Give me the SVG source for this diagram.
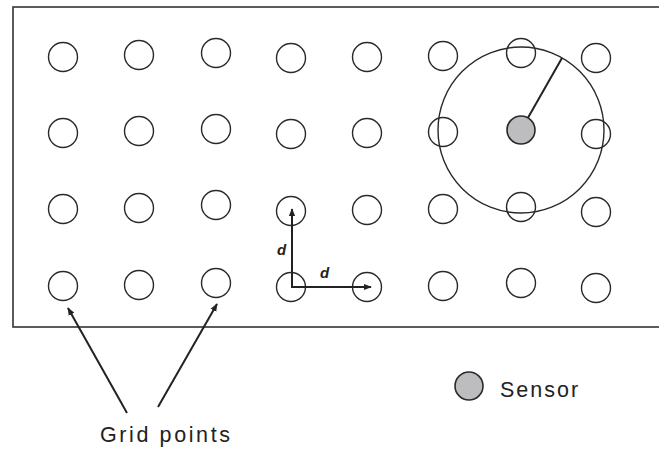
<svg xmlns="http://www.w3.org/2000/svg" width="659" height="450" viewBox="0 0 659 450">
<defs>
<marker id="ah" viewBox="0 0 10 10" refX="9" refY="5" markerWidth="4" markerHeight="4" orient="auto" markerUnits="strokeWidth">
<path d="M0,1 L10,5 L0,9 Z" fill="#222"/>
</marker>
<style>
.g{fill:#fff;stroke:#2a2a2a;stroke-width:1.4}
.s{fill:#bdbdc0;stroke:#2a2a2a;stroke-width:1.6}
.ln{stroke:#222;stroke-width:2;fill:none}
.t{font-family:"Liberation Sans",Arial,sans-serif;fill:#222}
</style>
</defs>
<rect x="0" y="0" width="659" height="450" fill="#fff"/>
<rect id="frame" x="13" y="7" width="660" height="320" fill="none" stroke="#333" stroke-width="1.6"/>
<g id="range">
<circle cx="521" cy="130" r="83" fill="none" stroke="#2a2a2a" stroke-width="1.4"/>
</g>
<g id="grid">
<circle class="g" cx="63" cy="57" r="14.5"/><circle class="g" cx="139" cy="55" r="14.5"/><circle class="g" cx="216" cy="53" r="14.5"/><circle class="g" cx="291" cy="58" r="14.5"/><circle class="g" cx="367" cy="57" r="14.5"/><circle class="g" cx="443" cy="56" r="14.5"/><circle class="g" cx="521" cy="53" r="14.5" style="fill:none"/><circle class="g" cx="596" cy="58" r="14.5"/>
<circle class="g" cx="63" cy="133" r="14.5"/><circle class="g" cx="139" cy="131" r="14.5"/><circle class="g" cx="216" cy="129" r="14.5"/><circle class="g" cx="291" cy="134" r="14.5"/><circle class="g" cx="367" cy="133" r="14.5"/><circle class="g" cx="443" cy="132" r="14.5" style="fill:none"/><circle class="g" cx="596" cy="134" r="14.5" style="fill:none"/>
<circle class="g" cx="63" cy="209" r="14.5"/><circle class="g" cx="139" cy="208" r="14.5"/><circle class="g" cx="216" cy="205" r="14.5"/><circle class="g" cx="291" cy="211" r="14.5"/><circle class="g" cx="367" cy="210" r="14.5"/><circle class="g" cx="443" cy="209" r="14.5"/><circle class="g" cx="521" cy="207" r="14.5" style="fill:none"/><circle class="g" cx="596" cy="212" r="14.5"/>
<circle class="g" cx="63" cy="286" r="14.5"/><circle class="g" cx="139" cy="285" r="14.5"/><circle class="g" cx="216" cy="283" r="14.5"/><circle class="g" cx="291" cy="287" r="14.5"/><circle class="g" cx="367" cy="287" r="14.5"/><circle class="g" cx="443" cy="286" r="14.5"/><circle class="g" cx="521" cy="283" r="14.5"/><circle class="g" cx="596" cy="288" r="14.5"/>
</g>
<g id="connectors">
<line class="ln" x1="521" y1="130" x2="562" y2="58"/>
<line class="ln" x1="292" y1="287" x2="292" y2="209" marker-end="url(#ah)"/>
<line class="ln" x1="291" y1="287" x2="371" y2="287" marker-end="url(#ah)"/>
<line class="ln" x1="127" y1="413" x2="68" y2="308" marker-end="url(#ah)"/>
<line class="ln" x1="158" y1="407" x2="217" y2="304" marker-end="url(#ah)"/>
</g>
<g id="sensor">
<circle class="s" cx="521" cy="130" r="14"/>
</g>
<text class="t" x="277" y="255" font-size="15" font-style="italic" font-weight="bold">d</text>
<text class="t" x="320" y="278" font-size="15" font-style="italic" font-weight="bold">d</text>
<g id="legend">
<circle class="s" cx="469" cy="386" r="14"/>
<text class="t" x="500" y="397" font-size="21.5" letter-spacing="2">Sensor</text>
</g>
<text class="t" x="100" y="442" font-size="21.5" letter-spacing="2.6">Grid points</text>
</svg>
